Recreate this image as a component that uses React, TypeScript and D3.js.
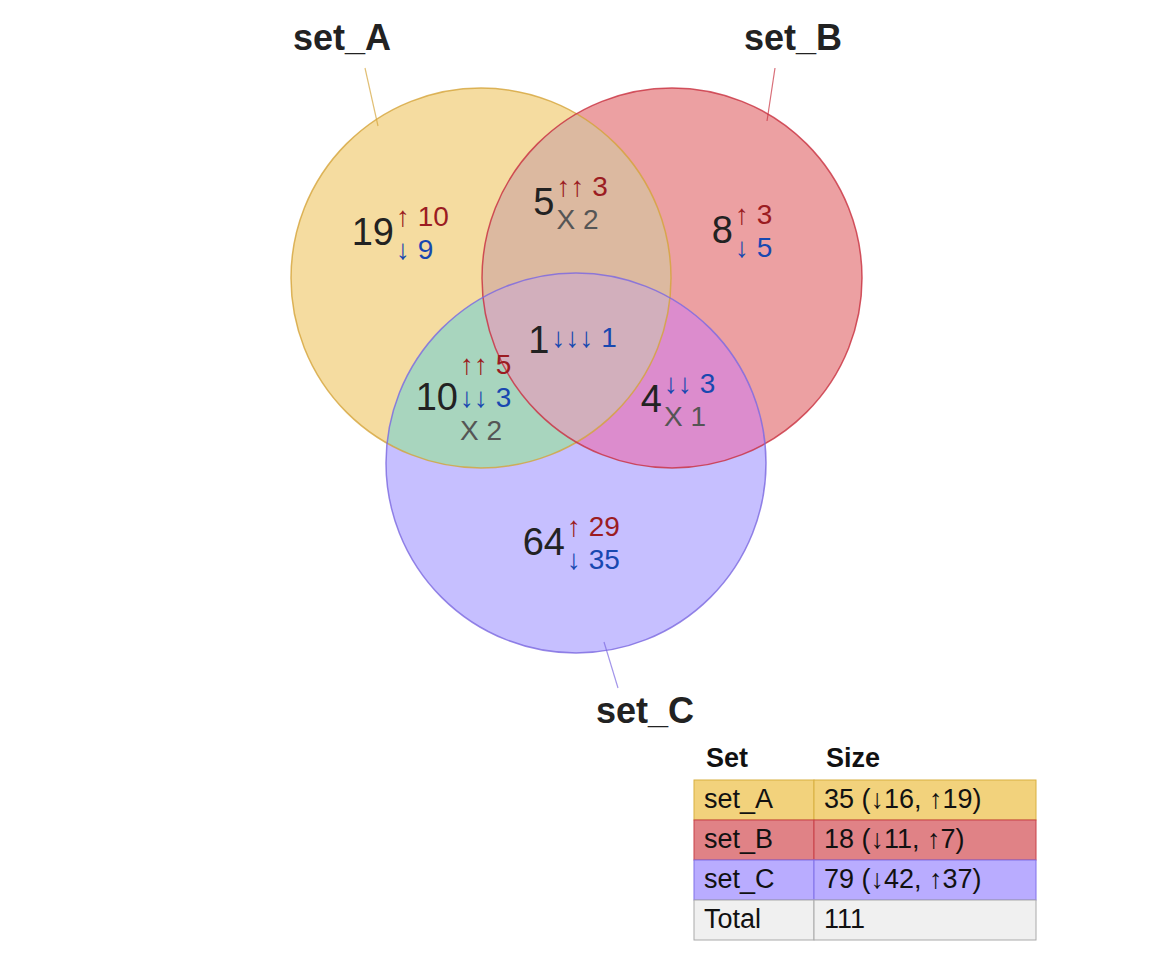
import React from "react";
import * as d3 from "d3";

const setNames = ["set_A", "set_B", "set_C"];
const setFills = ["#f5dca0", "#eca0a2", "#c6bfff"];
const setStrokes = ["#d4a43a", "#c8303e", "#7a68e0"];
// overlap fills: AB, AC, BC, ABC
const overlapNames = ["AB", "AC", "BC", "ABC"];
const overlapFills = ["#dcb9a0", "#a8d5be", "#dc8ccd", "#d2afbc"];
const tableFills = ["#f2d27c", "#e08286", "#b9acff", "#f0f0f0"];
const tableStrokes = ["#d8b040", "#c84048", "#8070e8", "#aaaaaa"];

// region: count, lines of [symbol, value, kind]
const regionNames = ["A", "AB", "B", "ABC", "AC", "BC", "C"];
const regionCounts = [19, 5, 8, 1, 10, 4, 64];
const regionLines: [string, number, string][][] = [
  [["↑", 10, "up"], ["↓", 9, "down"]],
  [["↑↑", 3, "up"], ["X", 2, "x"]],
  [["↑", 3, "up"], ["↓", 5, "down"]],
  [["↓↓↓", 1, "down"]],
  [["↑↑", 5, "up"], ["↓↓", 3, "down"], ["X", 2, "x"]],
  [["↓↓", 3, "down"], ["X", 1, "x"]],
  [["↑", 29, "up"], ["↓", 35, "down"]],
];

const tableSizes = ["35 (↓16, ↑19)", "18 (↓11, ↑7)", "79 (↓42, ↑37)", "111"];
const tableRows = ["set_A", "set_B", "set_C", "Total"];

const kindColor: Record<string, string> = { up: "#9b1c22", down: "#1848b0", x: "#555555" };
const FONT = "'Liberation Sans', Arial, sans-serif";

export default function App() {
  const x = d3.scaleLinear().domain([0, 1]).range([0, 1]);
  const r = 190;
  const centers = [
    [481, 278],
    [672, 278],
    [576, 463],
  ];
  const [A, B, C] = centers;
  const anchors = [
    [A[0] - 87, A[1] - 43],
    [(A[0] + B[0]) / 2 - 22, A[1] - 73],
    [B[0] + 61, B[1] - 45],
    [(A[0] + B[0]) / 2 - 27, A[1] + 65],
    [A[0] - 23, A[1] + 122],
    [B[0] - 10, B[1] + 124],
    [C[0] - 11, C[1] + 82],
  ];
  const labelPos = [
    { t: [342, 40], l: [[365, 68], [378, 126]] },
    { t: [793, 40], l: [[775, 68], [767, 121]] },
    { t: [645, 713], l: [[618, 688], [604, 642]] },
  ];
  const lineGap = 33;
  const tx0 = 694, tx1 = 814, tx2 = 1036, ty0 = 780, rowH = 40;
  // overlap: [clip set ids, fill set id]
  const overlapDefs: [number[], number][] = [[[0], 1], [[0], 2], [[1], 2], [[0, 1], 2]];

  const circ = (i: number, props: any = {}) => (
    <circle cx={x(centers[i][0])} cy={centers[i][1]} r={r} {...props} />
  );

  return (
    <svg width={1152} height={960} style={{ display: "block", margin: -8 }} fontFamily={FONT}>
      <defs>
        {centers.map((_, i) => (
          <clipPath key={i} id={`clip${i}`}>{circ(i)}</clipPath>
        ))}
      </defs>
      {centers.map((_, i) => <g key={i}>{circ(i, { fill: setFills[i] })}</g>)}
      {overlapDefs.map(([clips, f], k) => {
        let el: React.ReactNode = circ(f, { fill: overlapFills[k] });
        clips.forEach((c) => { el = <g clipPath={`url(#clip${c})`}>{el}</g>; });
        return <g key={overlapNames[k]}>{el}</g>;
      })}
      {centers.map((_, i) => (
        <g key={i}>{circ(i, { fill: "none", stroke: setStrokes[i], strokeWidth: 1.5, strokeOpacity: 0.8 })}</g>
      ))}
      {labelPos.map((p, i) => (
        <g key={i}>
          <line x1={p.l[0][0]} y1={p.l[0][1]} x2={p.l[1][0]} y2={p.l[1][1]} stroke={setStrokes[i]} strokeOpacity={0.7} strokeWidth={1.2} />
          <text x={p.t[0]} y={p.t[1]} textAnchor="middle" dominantBaseline="middle"
            fontSize={36} fontWeight="bold" fill="#222">{setNames[i]}</text>
        </g>
      ))}
      {regionNames.map((n, i) => {
        const [ax, ay] = anchors[i];
        const lines = regionLines[i];
        return (
          <g key={n}>
            <text x={ax} y={ay} textAnchor="end" dominantBaseline="middle" fontSize={38} fill="#222">
              {regionCounts[i]}
            </text>
            {lines.map((ln, j) => (
              <text key={j} x={ax + 2} y={ay + (j - (lines.length - 1) / 2) * lineGap - (lines.length === 1 ? 3 : 0)}
                dominantBaseline="middle" fontSize={28} fill={kindColor[ln[2]]}>
                {ln[0] + " " + ln[1]}
              </text>
            ))}
          </g>
        );
      })}
      <text x={tx0 + 12} y={760} dominantBaseline="middle" fontSize={27} fontWeight="bold" fill="#111">Set</text>
      <text x={tx1 + 12} y={760} dominantBaseline="middle" fontSize={27} fontWeight="bold" fill="#111">Size</text>
      {tableRows.map((row, i) => (
        <g key={row}>
          <rect x={tx0} y={ty0 + i * rowH} width={tx1 - tx0} height={rowH} fill={tableFills[i]} stroke={tableStrokes[i]} />
          <rect x={tx1} y={ty0 + i * rowH} width={tx2 - tx1} height={rowH} fill={tableFills[i]} stroke={tableStrokes[i]} />
          <text x={tx0 + 10} y={ty0 + i * rowH + rowH / 2 + 1} dominantBaseline="middle" fontSize={27} fill="#111">{row}</text>
          <text x={tx1 + 10} y={ty0 + i * rowH + rowH / 2 + 1} dominantBaseline="middle" fontSize={27} fill="#111">{tableSizes[i]}</text>
        </g>
      ))}
    </svg>
  );
}
